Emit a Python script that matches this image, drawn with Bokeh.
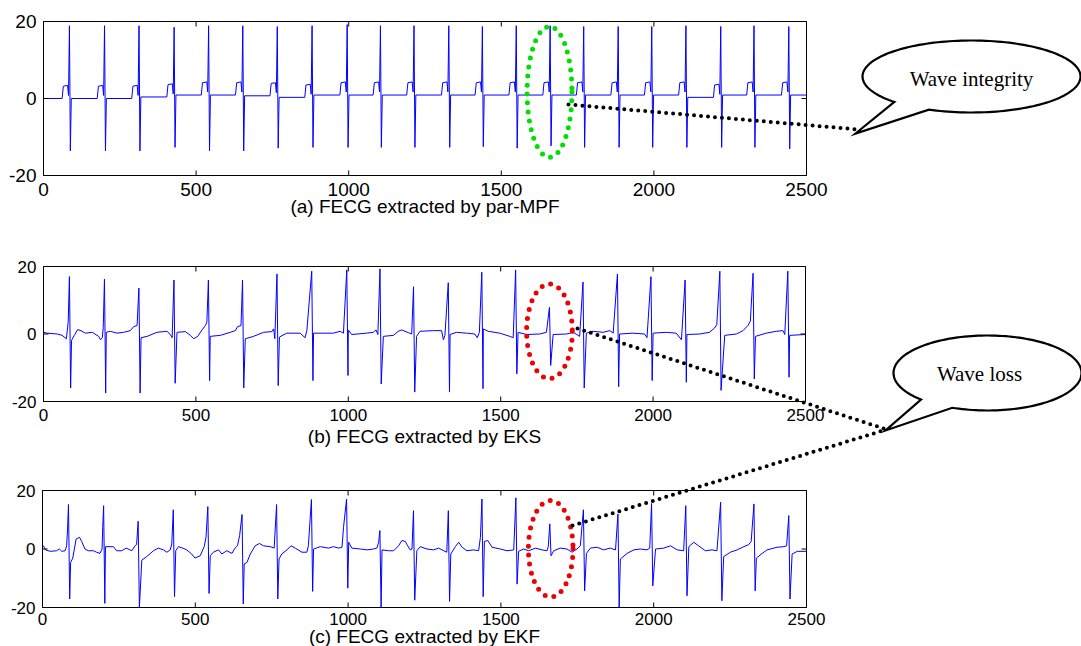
import numpy as np
from bokeh.plotting import figure
from bokeh.models import Range1d
from bokeh.embed import file_html
from bokeh.resources import INLINE
from bokeh.core.properties import value

# ---------------------------------------------------------------- data
X_MIN, X_MAX = 0, 2500
Y_MIN, Y_MAX = -20, 20
X_TICKS = [0, 500, 1000, 1500, 2000, 2500]
X_TICK_LABELS = ["0", "500", "1000", "1500", "2000", "2500"]
Y_TICKS = [-20, 0, 20]
Y_TICK_LABELS = ["-20", "0", "20"]

# R-peak sample positions of the fetal beats (shared by the three extractions)
BEAT_X = [85, 200, 313, 428, 541, 653, 766, 880, 995, 1104, 1214,
          1328, 1438, 1549, 1660, 1770, 1883, 1993, 2105, 2219, 2328, 2442]

# (a) par-MPF: R / S amplitudes, isoelectric level between beats, P-bump shape
A_R = [18.9, 18.9, 18.9, 18.5, 18.9, 18.9, 18.7, 18.9, 19.2, 18.9, 18.9,
       18.9, 18.7, 18.9, 18.9, 18.7, 18.7, 18.7, 18.9, 18.7, 18.9, 18.7]
A_S = [-13.6, -13.6, -13.6, -12.7, -13.6, -13.6, -12.9, -12.7, -12.7, -12.7, -12.7,
       -12.7, -12.5, -12.9, -12.3, -12.7, -12.7, -12.7, -12.7, -12.7, -12.7, -13.1]
A_LEVEL = [0, 0, 0, 0.4, 0.9, 0.9, 0.7, 0.3, 0.9, 0.9, 0.9, 0.9,
           0.9, 0.9, 0.9, 0.9, 0.9, 0.9, 0.9, 0.3, 0.9, 0.9, 0.9]
A_PRE_DX = [-24, -20, -6, -3]
A_PRE_DY = [0.0, 3.2, 3.4, 0.8]

# (b) EKS
B_R = [17.0, 16.3, 13.6, 16.0, 16.0, 16.0, 17.8, 18.6, 19.0, 19.3, 14.0,
       15.2, 18.3, 19.0, 7.9, 15.4, 17.8, 17.0, 16.0, 18.6, 18.0, 18.6]
B_S = [-16.0, -17.5, -17.5, -14.6, -13.8, -16.0, -15.3, -13.8, -12.3, -14.8, -17.2,
       -17.2, -16.2, -11.8, -9.3, -16.0, -15.6, -13.8, -14.3, -16.7, -13.3, -12.8]
B_BASELINE = [
    (0, 0.5), (12, 0.25), (45, 0), (61, -0.4), (75, -1.4), (81, 3.5),
    (92, -1.9), (101, -0.4), (112, 1.3), (123, 1.0), (137, 0.25), (160, 0.5),
    (181, -0.7), (187, -1.7), (193, -1.1), (196, 2.0),
    (206, 0.5), (219, 0.8), (241, 0.25), (263, 0.5), (285, 1.0), (296, 2.2), (307, 2.5),
    (320, -1.1), (340, -0.7), (372, 0.5), (405, 0.8), (416, -0.15), (422, -1.1),
    (438, 0.5), (465, 0.7), (482, -0.4), (493, -1.4), (506, -0.7), (520, 1.2), (531, 2.5), (536, 3.5),
    (547, -0.7), (580, -0.4), (613, 0.5), (629, 1.0), (637, 2.2), (648, 2.5),
    (662, -1.4), (689, -0.7), (722, 0.5), (749, 0.7), (755, 1.5), (759, -1.4),
    (774, -0.9), (798, 0.25), (842, 0.25), (858, -1.1), (864, 1.0),
    (886, 0.25), (951, 0.25), (973, 0.8), (984, 0.25),
    (1000, 1.2), (1011, -0.15), (1060, 0.25), (1082, 0.5), (1091, 1.2), (1097, -0.15),
    (1115, -0.7), (1148, -0.4), (1164, 0.8), (1175, 1.2), (1197, 0.4), (1208, 0.0),
    (1224, -0.7), (1235, 0.8), (1279, 1.0), (1306, 1.0), (1312, -1.7), (1317, -0.4),
    (1334, -0.15), (1355, 0.5), (1388, 0.25), (1415, 0.0), (1423, -1.1), (1430, 0.5),
    (1443, 1.5), (1459, 0.8), (1497, 0.25), (1530, -0.7), (1541, -1.1),
    (1557, 0.5), (1585, -0.15), (1628, 0.0), (1650, 0.5),
    (1672, -0.15), (1716, 0.0), (1738, 0.5), (1759, -0.7),
    (1781, 0.25), (1803, 0.8), (1836, 0.5), (1858, 1.0), (1869, 0.25),
    (1890, 0.0), (1934, 0.25), (1972, 0.0), (1980, -1.1),
    (2000, 0.25), (2043, 0.5), (2076, 0.25), (2093, -1.7),
    (2111, -0.15), (2153, 0.0), (2185, 0.5), (2202, 1.8), (2209, 2.8),
    (2235, -0.4), (2273, 0.0), (2295, 1.0), (2311, 2.5), (2319, 3.8),
    (2336, -0.7), (2371, 0.25), (2404, 0.8), (2426, 1.0), (2432, -0.15),
    (2448, -0.4), (2500, -0.15),
]

# (c) EKF
C_R = [15.2, 14.8, 9.5, 13.4, 14.5, 11.8, 15.2, 16.9, 17.1, 6.3, 13.1,
       13.1, 17.1, 17.5, 8.6, 13.4, 12.0, 15.6, 14.8, 16.0, 15.4, 11.4]
C_S = [-17.1, -18.6, -20.0, -16.3, -15.2, -18.8, -17.1, -14.5, -13.4, -20.0, -17.5,
       -17.9, -16.3, -12.0, -2.3, -14.3, -20.0, -12.6, -16.0, -17.7, -14.3, -17.1]
C_BASELINE = [
    (0, 0.6), (3, 1.1), (10, -0.3), (25, -0.8), (46, -0.6), (55, 0), (63, -0.8), (74, -0.6), (79, 1.1), (82, 6.8),
    (92, -4.6), (99, -3.1), (110, 3.4), (121, 4.0), (128, 2.6), (139, 0), (150, -0.6), (167, -0.6),
    (177, -1.1), (188, -1.5), (195, 0), (197, 7.4),
    (206, 0.8), (232, 0.8), (243, -0.6), (259, -0.6), (274, 0.3), (292, -0.6), (303, 1.1), (308, 1.5),
    (325, -3.8), (341, -2.6), (363, -0.6), (379, 0.3), (396, -0.3), (407, -1.1), (418, -0.3), (423, 1.7),
    (436, -0.6), (445, 0.8), (459, 0.3), (472, -0.3), (488, -1.7), (499, -3.1), (516, -2.3), (529, 0.8), (535, 4.0),
    (549, -2.3), (559, -1.1), (576, -0.3), (587, -1.7), (603, -0.6), (620, -1.5), (630, 0.3), (638, 1.1), (645, 4.6),
    (660, -5.1), (669, -4.6), (680, -1.7), (696, 1.1), (710, 1.9), (723, 1.1), (745, 0.8), (758, 0.3),
    (774, -3.4), (783, -1.7), (800, -0.3), (813, 1.1), (827, 0.3), (849, -1.1), (865, -1.1), (870, 1.1),
    (887, 0), (909, 0.8), (936, 0.3), (952, 0.8), (969, 0.3), (980, 0.6), (985, 7.4),
    (1002, 2.3), (1012, 0.3), (1040, 0), (1062, -0.3), (1083, 0), (1094, 0.3), (1100, 2.3),
    (1111, -0.3), (1132, -0.6), (1149, -0.6), (1165, 1.1), (1176, 2.9), (1187, 2.6), (1195, 1.1), (1203, -0.3), (1209, 0),
    (1225, -0.6), (1236, 0.8), (1258, 0), (1280, -0.3), (1296, 0.3), (1313, -0.6), (1323, -1.1),
    (1336, -1.7), (1351, 0.8), (1362, 2.3), (1373, 0.6), (1389, -0.6), (1411, -0.3), (1427, -0.6), (1433, 4.0),
    (1446, 2.6), (1457, 2.9), (1471, 0.6), (1498, 0), (1520, -0.6), (1542, -0.3),
    (1558, -0.8), (1574, 0), (1591, -0.6), (1613, 0.3), (1634, -0.3), (1651, -0.6), (1655, 0.8),
    (1673, -0.6), (1694, 0.3), (1716, 0), (1733, -1.1), (1749, 0), (1760, 1.1),
    (1780, -1.5), (1793, 0.3), (1815, 0.6), (1836, -0.3), (1858, 0.3), (1875, -0.3),
    (1891, -3.4), (1913, -1.5), (1935, -0.3), (1956, 0), (1978, -0.3), (1987, 0.3),
    (2006, 0), (2033, 0.3), (2055, 1.1), (2077, -0.3), (2098, -0.6),
    (2115, 0.8), (2131, 2.3), (2147, 1.1), (2169, -0.6), (2191, -0.3), (2207, -0.6),
    (2229, -2.6), (2251, -1.1), (2273, -0.3), (2295, 0.8), (2311, 1.5), (2319, 2.6),
    (2336, -3.1), (2355, -1.5), (2371, -0.3), (2404, 0.6), (2426, 0.8), (2435, 1.1),
    (2453, -1.7), (2470, -0.8), (2500, -0.8),
]

CAPTIONS = ["(a) FECG extracted by par-MPF",
            "(b) FECG extracted by EKS",
            "(c) FECG extracted by EKF"]


# ---------------------------------------------------------------- traces
def trace_a():
    pts = [(X_MIN, A_LEVEL[0])]
    for i, t in enumerate(BEAT_X):
        for dx, dy in zip(A_PRE_DX, A_PRE_DY):
            pts.append((t + dx, A_LEVEL[i] + dy))
        pts.append((t, A_R[i]))
        pts.append((t + 3, A_S[i]))
        pts.append((t + 6, A_LEVEL[i + 1]))
    pts.append((X_MAX, A_LEVEL[-1]))
    pts.sort()
    return [q[0] for q in pts], [q[1] for q in pts]


def trace_from(baseline, r_amp, s_amp):
    pts = list(baseline)
    for t, r, s in zip(BEAT_X, r_amp, s_amp):
        pts.append((t, r))
        pts.append((t + 4, s))
    pts.sort()
    return [q[0] for q in pts], [q[1] for q in pts]


TRACES = [trace_a(), trace_from(B_BASELINE, B_R, B_S), trace_from(C_BASELINE, C_R, C_S)]

# ---------------------------------------------------------------- page
W, H = 1081, 646
p = figure(width=W, height=H, x_range=Range1d(0, W), y_range=Range1d(H, 0),
           x_axis_type=None, y_axis_type=None, toolbar_location=None,
           output_backend="svg", min_border=0, outline_line_color=None,
           background_fill_color="white", border_fill_color="white")

# panel boxes on the page: (left, right, top, bottom)
BOXES = [(43, 806, 21, 175), (43, 805, 266, 401), (42, 806, 490, 607)]
TICK_FONT = ["19px", "17px", "17px"]
TICK_GAP = [7, 7, 5]
CAPTION_GAP = [31, 35, 29]
HIGHLIGHT = [dict(x=1658, y=1.7, w=147, h=34, color="#00e000"),
             dict(x=1660, y=0.8, w=150, h=28, color="#f00000"),
             dict(x=1663, y=0.1, w=146, h=33, color="#f00000")]

FONT = value("Liberation Sans")
for k, (l, r, t, b) in enumerate(BOXES):
    sub = p.subplot(x_source=Range1d(X_MIN, X_MAX), y_source=Range1d(Y_MIN, Y_MAX),
                    x_target=Range1d(l, r), y_target=Range1d(b, t))
    xs, ys = TRACES[k]
    sub.line(xs, ys, line_color="#0000ff", line_width=1)

    # frame and inward ticks
    sub.line([X_MIN, X_MAX, X_MAX, X_MIN, X_MIN], [Y_MIN, Y_MIN, Y_MAX, Y_MAX, Y_MIN],
             line_color="black", line_width=1)
    ty = 5 * (Y_MAX - Y_MIN) / (b - t)
    tx = 5 * (X_MAX - X_MIN) / (r - l)
    n = len(X_TICKS)
    sub.segment(X_TICKS, [Y_MIN] * n, X_TICKS, [Y_MIN + ty] * n, line_color="black")
    sub.segment(X_TICKS, [Y_MAX] * n, X_TICKS, [Y_MAX - ty] * n, line_color="black")
    m = len(Y_TICKS)
    sub.segment([X_MIN] * m, Y_TICKS, [X_MIN + tx] * m, Y_TICKS, line_color="black")
    sub.segment([X_MAX - tx] * m, Y_TICKS, [X_MAX] * m, Y_TICKS, line_color="black")

    sub.text(X_TICKS, [Y_MIN] * n, text=X_TICK_LABELS, y_offset=TICK_GAP[k],
             text_align="center", text_baseline="top", text_font=FONT,
             text_font_size=TICK_FONT[k], text_color="black")
    sub.text([X_MIN] * m, Y_TICKS, text=Y_TICK_LABELS, x_offset=-7,
             text_align="right", text_baseline="middle", text_font=FONT,
             text_font_size=TICK_FONT[k], text_color="black")
    sub.text([(X_MIN + X_MAX) / 2], [Y_MIN], text=[CAPTIONS[k]], y_offset=CAPTION_GAP[k],
             text_align="center", text_baseline="middle", text_font=FONT,
             text_font_size="19px", text_color="black")

    hl = HIGHLIGHT[k]
    sub.ellipse(x=hl["x"], y=hl["y"], width=hl["w"], height=hl["h"], fill_color=None,
                line_color=hl["color"], line_width=5, line_dash="0 9", line_cap="round")

# dotted leader lines to the call-outs
LEADERS = [((568, 104), (858, 129)), ((577, 328), (886, 429)), ((572, 525), (886, 429))]
for (x0, y0), (x1, y1) in LEADERS:
    p.line([x0, x1], [y0, y1], line_color="black", line_width=4,
           line_dash="0 7", line_cap="round")


def bubble(cx, cy, rx, ry, a_deg, b_deg, tip):
    th = np.radians(np.linspace(a_deg, b_deg + 360, 160))
    bx = list(cx + rx * np.cos(th)) + [tip[0]]
    by = list(cy + ry * np.sin(th)) + [tip[1]]
    return bx, by


CALLOUTS = [dict(c=(971, 76), r=(109, 36), a=135, b=113, tip=(855, 133),
                 label="Wave integrity", at=(971, 78)),
            dict(c=(987, 372.5), r=(94, 37.5), a=135, b=112, tip=(885, 430),
                 label="Wave loss", at=(979, 373))]
for co in CALLOUTS:
    bx, by = bubble(co["c"][0], co["c"][1], co["r"][0], co["r"][1], co["a"], co["b"], co["tip"])
    p.patch(bx, by, fill_color="white", line_color="black", line_width=2.2, line_join="miter")
    p.text([co["at"][0]], [co["at"][1]], text=[co["label"]], text_align="center",
           text_baseline="middle", text_font=value("Liberation Serif"),
           text_font_size="21px", text_color="black")

open("out.html", "w").write(file_html(p, INLINE))
